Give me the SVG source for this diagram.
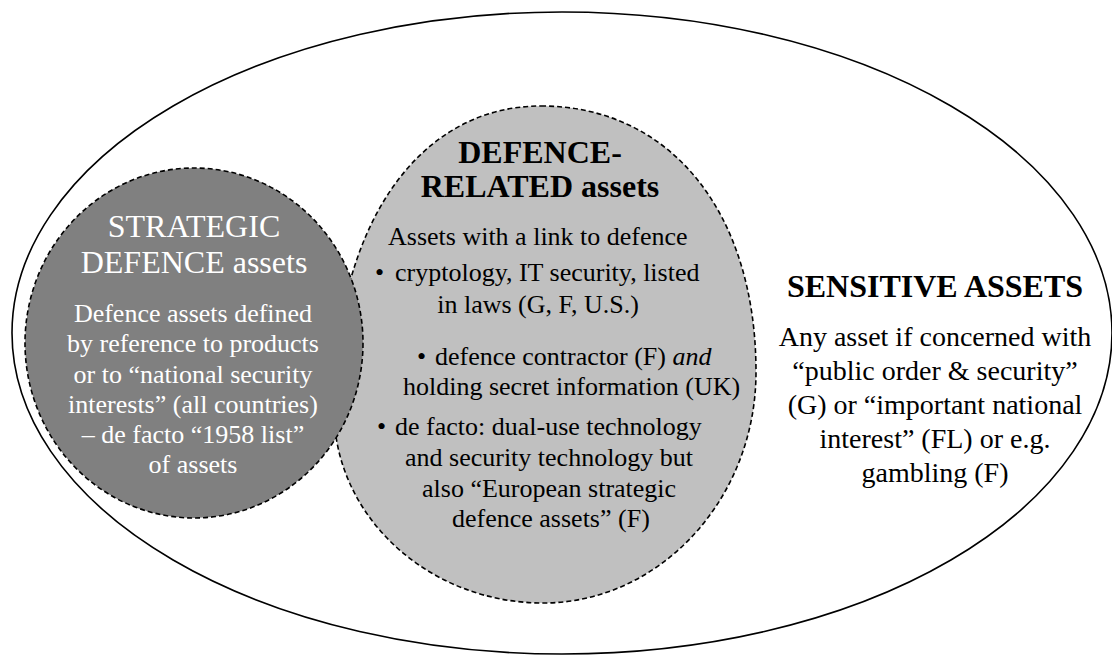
<svg xmlns="http://www.w3.org/2000/svg" width="1112" height="655" viewBox="0 0 1112 655">
<style>
  .t { font-family: 'Liberation Serif', serif; }
  .title { font-family: 'Liberation Serif', serif; font-size: 32px; }
  .b { font-weight: bold; }
  .body { font-family: 'Liberation Serif', serif; font-size: 26px; }
  .rbody { font-family: 'Liberation Serif', serif; font-size: 28px; }
  .white { fill: #ffffff; }
  .blk { fill: #000000; }
  .dash { stroke: #000; stroke-width: 1.6; stroke-dasharray: 5 3; }
</style>
<rect width="1112" height="655" fill="#ffffff"/>
<g id="sensitive">
  <ellipse cx="562" cy="333" rx="550" ry="321" fill="#ffffff" stroke="#000" stroke-width="1.6"/>
  <g class="blk" text-anchor="middle">
    <text class="title b" x="935" y="297">SENSITIVE ASSETS</text>
    <text class="rbody" x="935" y="346">Any asset if concerned with</text>
    <text class="rbody" x="935" y="380">“public order &amp; security”</text>
    <text class="rbody" x="935" y="414">(G) or “important national</text>
    <text class="rbody" x="935" y="448">interest” (FL) or e.g.</text>
    <text class="rbody" x="935" y="482">gambling (F)</text>
  </g>
</g>
<g id="defence-related">
  <path class="dash" fill="#c0c0c0" d="M541,106 C670,106 756,212 756,372 C756,499 660,603 543,603 C428,603 334,516 334,410 C334,228 417,106 541,106 Z"/>
  <g class="blk">
    <text class="title b" x="540" y="163" text-anchor="middle">DEFENCE-</text>
    <text class="title b" x="540" y="197" text-anchor="middle">RELATED assets</text>
    <text class="body" x="388" y="245">Assets with a link to defence</text>
    <text class="body" x="375" y="281">•<tspan x="395">cryptology, IT security, listed</tspan></text>
    <text class="body" x="538" y="313" text-anchor="middle">in laws (G, F, U.S.)</text>
    <text class="body" x="417" y="365">•<tspan x="435">defence contractor (F) </tspan><tspan font-style="italic">and</tspan></text>
    <text class="body" x="403" y="395">holding secret information (UK)</text>
    <text class="body" x="377" y="435">•<tspan x="395">de facto: dual-use technology</tspan></text>
    <text class="body" x="405" y="466">and security technology but</text>
    <text class="body" x="422" y="497">also “European strategic</text>
    <text class="body" x="452" y="527">defence assets” (F)</text>
  </g>
</g>
<g id="strategic">
  <ellipse class="dash" cx="194" cy="343" rx="169" ry="175" fill="#808080"/>
  <g class="white" text-anchor="middle">
    <text class="title" x="194" y="237">STRATEGIC</text>
    <text class="title" x="194" y="273">DEFENCE assets</text>
    <text class="body" x="193" y="322">Defence assets defined</text>
    <text class="body" x="193" y="352">by reference to products</text>
    <text class="body" x="193" y="383">or to “national security</text>
    <text class="body" x="193" y="413">interests” (all countries)</text>
    <text class="body" x="193" y="443">– de facto “1958 list”</text>
    <text class="body" x="193" y="473">of assets</text>
  </g>
</g>
<g id="connectors"></g>
</svg>
